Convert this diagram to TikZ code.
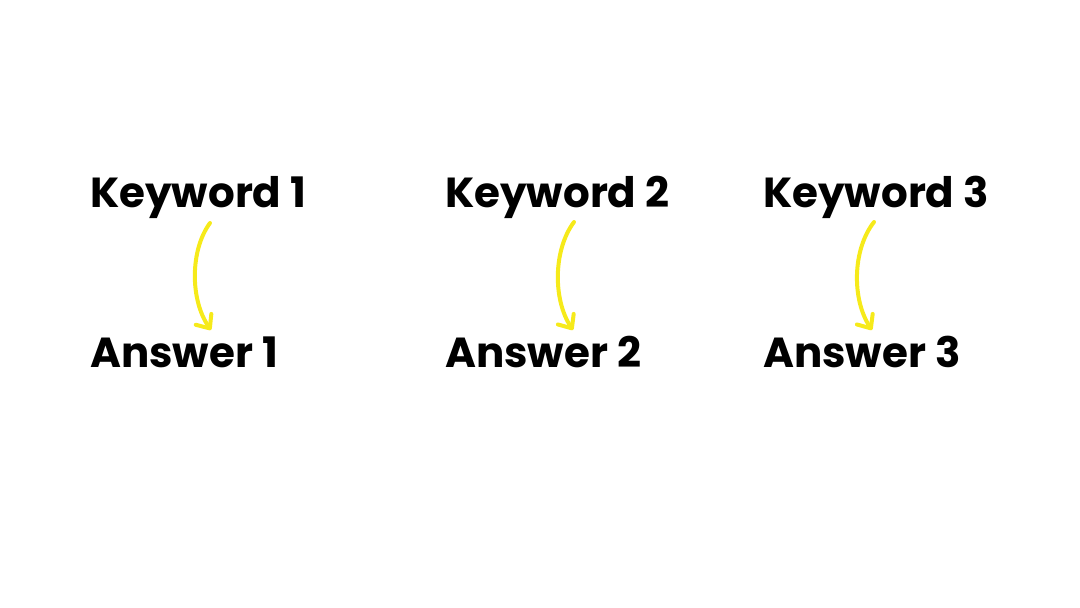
\documentclass[tikz,border=0pt]{standalone}
\usepackage{fontspec}
\setmainfont{Poppins}[BoldFont={* Bold}]
\usetikzlibrary{arrows.meta}

\tikzset{
  word/.style={anchor=base west, inner sep=0pt, font=\fontsize{42}{42}\selectfont\bfseries},
  hook/.style={draw=arrowyellow, line width=4pt, line cap=round,
    -{Straight Barb[length=11pt, width=19pt, line width=4pt, round]}}
}
\definecolor{arrowyellow}{HTML}{F6EA1A}

\begin{document}
\begin{tikzpicture}[x=1pt, y=-1pt]
		\useasboundingbox (0,0) rectangle (1080,608);
		\node[word] (k1) at (90,207) {Keyword 1};
		\node[word] (k2) at (445,207) {Keyword 2};
		\node[word] (k3) at (763,207) {Keyword 3};
		\node[word] (a1) at (90,367) {Answer 1};
		\node[word] (a2) at (445,367) {Answer 2};
		\node[word] (a3) at (763,367) {Answer 3};
		%
		\coordinate (s1) at (210,223);
		\coordinate (e1) at (211,330);
		\coordinate (s2) at (574,222);
		\coordinate (e2) at (573,330);
		\coordinate (s3) at (874,222);
		\coordinate (e3) at (872,330);
		\draw[hook] (s1) .. controls (190,250) and (190,300) .. (e1);
		\draw[hook] (s2) .. controls (553,250) and (553,300) .. (e2);
		\draw[hook] (s3) .. controls (852,250) and (852,300) .. (e3);
	  \end{tikzpicture}
\end{document}
